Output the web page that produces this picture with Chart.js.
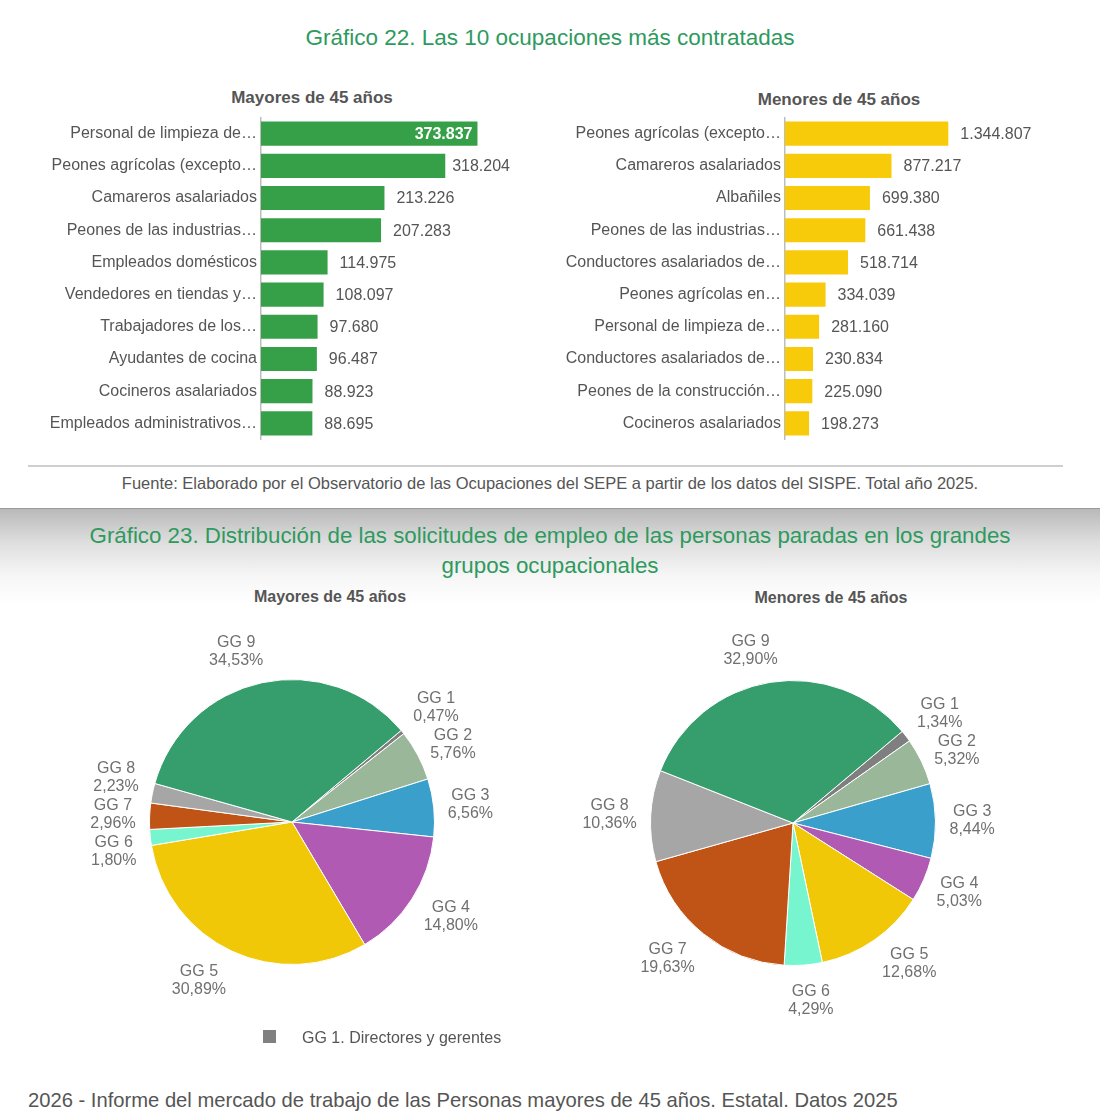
<!DOCTYPE html>
<html lang="es">
<head>
<meta charset="utf-8">
<title>Gráficos 22 y 23</title>
<script src="https://cdn.jsdelivr.net/npm/chart.js@4.4.1/dist/chart.umd.min.js"></script>
<style>
  html, body { margin: 0; padding: 0; background: #fff; }
  body {
    width: 1100px; height: 1119px; position: relative; overflow: hidden;
    font-family: "Liberation Sans", Arial, sans-serif; color: #555;
  }
  .abs { position: absolute; white-space: nowrap; }
  .title { left: 0; width: 1100px; text-align: center; color: #2e9a5e; font-size: 22.5px; line-height: 30px; }
  .sub { font-weight: bold; font-size: 17px; line-height: 20px; color: #555; transform: translateX(-50%); }
  .sub.pie { font-size: 16px; }
  .band {
    left: 0; top: 508px; width: 1100px; height: 95px;
    border-top: 1px solid #9a9a9a;
    background: linear-gradient(to bottom, #b9b9b9 0%, #dedede 35%, #f6f6f6 70%, #fff 100%);
  }
  canvas { position: absolute; }
</style>
</head>
<body>

<div class="abs band"></div>

<div class="abs title" style="top:23px">Gráfico 22. Las 10 ocupaciones más contratadas</div>
<div class="abs sub" style="left:312px; top:88px">Mayores de 45 años</div>
<div class="abs sub" style="left:839px; top:90px">Menores de 45 años</div>

<canvas id="barMayores" width="480" height="349" style="left:30px; top:104px"></canvas>
<canvas id="barMenores" width="500" height="349" style="left:540px; top:104px"></canvas>

<div class="abs" style="left:28px; top:465px; width:1035px; height:2px; background:#cfcfcf"></div>
<div class="abs" style="left:0; width:1100px; top:473px; text-align:center; font-size:16.5px; line-height:20px; color:#555">Fuente: Elaborado por el Observatorio de las Ocupaciones del SEPE a partir de los datos del SISPE. Total año 2025.</div>

<div class="abs title" style="top:521px; white-space:normal; font-size:22.3px">Gráfico 23. Distribución de las solicitudes de empleo de las personas paradas en los grandes<br>grupos ocupacionales</div>
<div class="abs sub pie" style="left:330px; top:587px">Mayores de 45 años</div>
<div class="abs sub pie" style="left:831px; top:588px">Menores de 45 años</div>

<canvas id="pieMayores" width="420" height="420" style="left:82px; top:612px"></canvas>
<canvas id="pieMenores" width="420" height="420" style="left:583px; top:613px"></canvas>

<div class="abs" style="left:263px; top:1030px; width:13px; height:13px; background:#808080"></div>
<div class="abs" style="left:302px; top:1028px; font-size:16px; line-height:20px; color:#555">GG 1. Directores y gerentes</div>

<div class="abs" style="left:28px; top:1088px; font-size:20.2px; line-height:24px; color:#555">2026 - Informe del mercado de trabajo de las Personas mayores de 45 años. Estatal. Datos 2025</div>

<script>
/* =========================================================
   DATA
========================================================= */

const mayoresOcupaciones = [
  "Personal de limpieza de…",
  "Peones agrícolas (excepto…",
  "Camareros asalariados",
  "Peones de las industrias…",
  "Empleados domésticos",
  "Vendedores en tiendas y…",
  "Trabajadores de los…",
  "Ayudantes de cocina",
  "Cocineros asalariados",
  "Empleados administrativos…"
];
const mayoresContratos = [373837, 318204, 213226, 207283, 114975, 108097, 97680, 96487, 88923, 88695];

const menoresOcupaciones = [
  "Peones agrícolas (excepto…",
  "Camareros asalariados",
  "Albañiles",
  "Peones de las industrias…",
  "Conductores asalariados de…",
  "Peones agrícolas en…",
  "Personal de limpieza de…",
  "Conductores asalariados de…",
  "Peones de la construcción…",
  "Cocineros asalariados"
];
const menoresContratos = [1344807, 877217, 699380, 661438, 518714, 334039, 281160, 230834, 225090, 198273];

const grupos = ["GG 1", "GG 2", "GG 3", "GG 4", "GG 5", "GG 6", "GG 7", "GG 8", "GG 9"];
const mayoresPct = [0.47, 5.76, 6.56, 14.80, 30.89, 1.80, 2.96, 2.23, 34.53];
const menoresPct = [1.34, 5.32, 8.44, 5.03, 12.68, 4.29, 19.63, 10.36, 32.90];

const grupoColors = ["#7f7f7f", "#9ab899", "#3a9fca", "#b05ab4", "#f1c807", "#77f5cf", "#c05417", "#a6a6a6", "#369e6c"];

/* =========================================================
   HELPERS
========================================================= */

const FONT = '"Liberation Sans", Arial, sans-serif';

function fmtThousands(n) {
  return String(n).replace(/\B(?=(\d{3})+(?!\d))/g, ".");
}

function fmtPct(n) {
  return n.toFixed(2).replace(".", ",") + "%";
}

/* -------- value labels on bars -------- */

const barValueLabels = {
  id: "barValueLabels",
  afterDatasetsDraw(chart) {
    const ctx = chart.ctx;
    const area = chart.chartArea;
    const meta = chart.getDatasetMeta(0);
    const values = chart.data.datasets[0].data;

    ctx.save();
    ctx.textBaseline = "middle";
    meta.data.forEach((bar, i) => {
      const text = fmtThousands(values[i]);
      ctx.font = "16px " + FONT;
      const w = ctx.measureText(text).width;
      let x = bar.x + 12;
      if (x + w > area.right) x = area.right - w;

      if (x < bar.x + 3) {
        // no room outside -> white label inside the bar
        ctx.font = "bold 16px " + FONT;
        ctx.fillStyle = "#fff";
        ctx.textAlign = "right";
        ctx.fillText(text, bar.x - 5, bar.y + 1);
      } else {
        ctx.fillStyle = "#555";
        ctx.textAlign = "left";
        ctx.fillText(text, x, bar.y + 1);
      }
    });
    ctx.restore();
  }
};

/* -------- outside labels on pies -------- */

const pieLabels = {
  id: "pieLabels",
  afterDatasetsDraw(chart) {
    const ctx = chart.ctx;
    const meta = chart.getDatasetMeta(0);
    const values = chart.data.datasets[0].data;
    const lineH = 18, boxH = 36, minGap = 37;
    const clamp = (v) => Math.max(-1, Math.min(1, v));

    ctx.save();
    ctx.font = "16px " + FONT;
    ctx.fillStyle = "#707070";
    ctx.textAlign = "center";
    ctx.textBaseline = "middle";

    // box centre: anchor just outside the rim, box pushed outward
    const boxes = meta.data.map((arc, i) => {
      const mid = (arc.startAngle + arc.endAngle) / 2;
      const ux = Math.cos(mid), uy = Math.sin(mid);
      const d = arc.outerRadius + 14;
      const pct = fmtPct(values[i]);
      const w = Math.max(ctx.measureText(grupos[i]).width, ctx.measureText(pct).width);
      return {
        i: i, pct: pct, side: ux >= 0 ? 1 : -1,
        x: arc.x + ux * d + clamp(ux * 4) * w / 2,
        y: arc.y + uy * d + uy * boxH / 2
      };
    });

    // simple vertical spreading per side
    [1, -1].forEach((side) => {
      const list = boxes.filter((b) => b.side === side).sort((a, b) => a.y - b.y);
      for (let pass = 0; pass < 20; pass++) {
        for (let k = 1; k < list.length; k++) {
          const gap = list[k].y - list[k - 1].y;
          if (gap < minGap) {
            const push = (minGap - gap) / 2;
            list[k - 1].y -= push;
            list[k].y += push;
          }
        }
      }
    });

    boxes.forEach((b) => {
      ctx.fillText(grupos[b.i], b.x, b.y - lineH / 2);
      ctx.fillText(b.pct, b.x, b.y + lineH / 2);
    });
    ctx.restore();
  }
};

/* =========================================================
   CHARTS
========================================================= */

function initBarChart(id, labels, values, color, max, axisWidth) {
  return new Chart(document.getElementById(id), {
    type: "bar",
    data: {
      labels: labels,
      datasets: [{
        data: values,
        backgroundColor: color,
        barPercentage: 0.75,
        categoryPercentage: 1
      }]
    },
    options: {
      indexAxis: "y",
      responsive: false,
      animation: false,
      layout: { padding: 0 },
      scales: {
        x: { display: false, min: 0, max: max },
        y: {
          grid: { display: false, drawTicks: false },
          border: { display: true, color: "#bdbdbd", width: 1.5 },
          ticks: { color: "#555", font: { size: 16, family: FONT }, padding: 4, autoSkip: false },
          afterFit: (scale) => { scale.width = axisWidth; }
        }
      },
      plugins: { legend: { display: false }, tooltip: { enabled: false } }
    },
    plugins: [barValueLabels]
  });
}

function initPieChart(id, values) {
  return new Chart(document.getElementById(id), {
    type: "pie",
    data: {
      labels: grupos,
      datasets: [{
        data: values,
        backgroundColor: grupoColors,
        borderColor: "#fff",
        borderWidth: 1
      }]
    },
    options: {
      responsive: false,
      animation: false,
      rotation: 50,
      layout: { padding: 67 },
      plugins: { legend: { display: false }, tooltip: { enabled: false } }
    },
    plugins: [pieLabels]
  });
}

/* =========================================================
   INIT
========================================================= */

initBarChart("barMayores", mayoresOcupaciones, mayoresContratos, "#36a048", 430000, 231);
initBarChart("barMenores", menoresOcupaciones, menoresContratos, "#f8cb0a", 2100000, 245);
initPieChart("pieMayores", mayoresPct);
initPieChart("pieMenores", menoresPct);
</script>
</body>
</html>
